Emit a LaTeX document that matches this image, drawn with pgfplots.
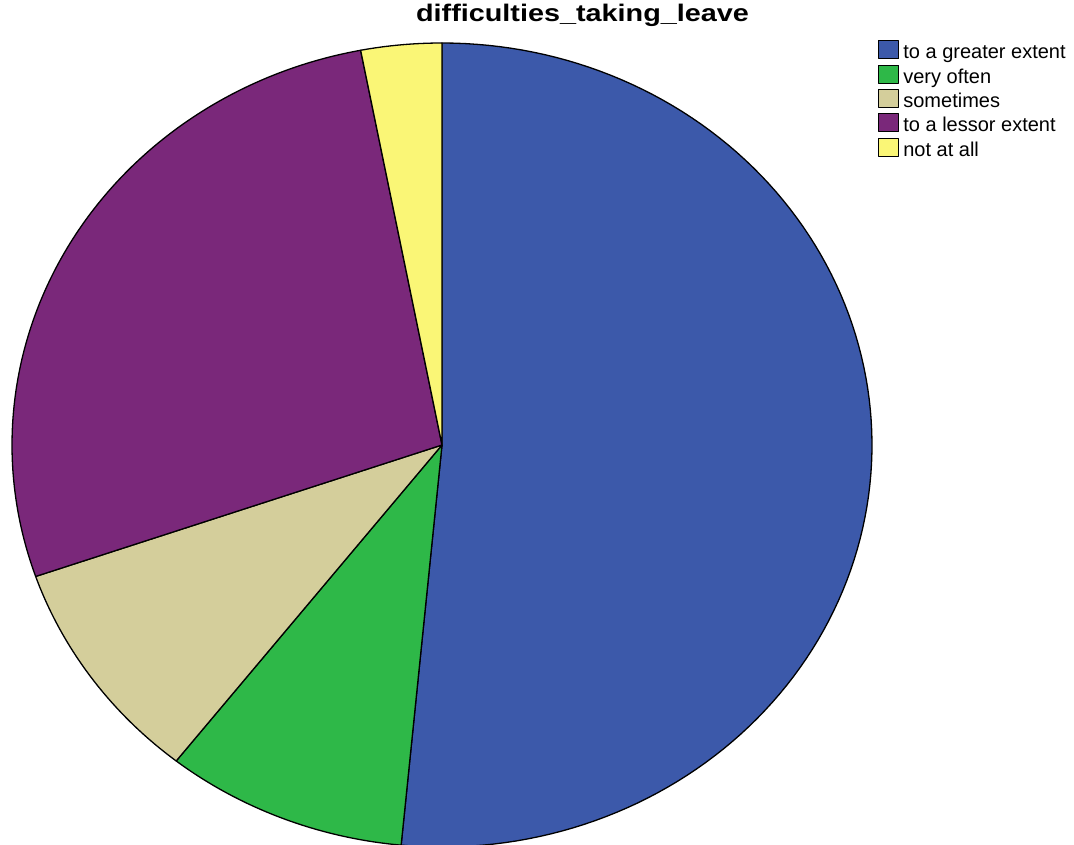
\documentclass[border=0pt]{standalone}
\usepackage{pgfplots}
\usepackage{pgfplotstable}
\pgfplotsset{compat=1.18}
\usepackage{fontspec}
\setmainfont{Liberation Sans}
\newfontfamily\titlefont[FakeStretch=1.2]{Liberation Sans}

\definecolor{pc0}{RGB}{60,89,170}
\definecolor{pc1}{RGB}{46,184,72}
\definecolor{pc2}{RGB}{212,206,155}
\definecolor{pc3}{RGB}{122,40,122}
\definecolor{pc4}{RGB}{250,246,118}

\pgfplotstableread[col sep=comma]{
label,count
to a greater extent,17
very often,3
sometimes,3
to a lessor extent,9
not at all,1
}\piedata

\xdef\pietotal{0}
\foreach \i in {0,...,4}{%
  \pgfplotstablegetelem{\i}{count}\of\piedata
  \pgfmathsetmacro\tmp{\pietotal+\pgfplotsretval}%
  \xdef\pietotal{\tmp}%
}
\xdef\piecum{0}
\foreach \i in {0,...,4}{%
  \pgfplotstablegetelem{\i}{count}\of\piedata
  \pgfmathsetmacro\sa{90-360*\piecum/\pietotal}%
  \pgfmathsetmacro\newcum{\piecum+\pgfplotsretval}%
  \pgfmathsetmacro\ea{90-360*\newcum/\pietotal}%
  \expandafter\xdef\csname pieS\i\endcsname{\sa}%
  \expandafter\xdef\csname pieE\i\endcsname{\ea}%
  \xdef\piecum{\newcum}%
  \pgfplotstablegetelem{\i}{label}\of\piedata
  \expandafter\xdef\csname pieL\i\endcsname{\pgfplotsretval}%
}

\begin{document}
\begin{tikzpicture}
\useasboundingbox (0,0) rectangle (1074pt,845pt);
\begin{axis}[
  at={(0,0)}, anchor=south west,
  width=1074pt, height=845pt, scale only axis,
  xmin=0, xmax=1074, ymin=0, ymax=845,
  hide axis, clip=true,
  title={\titlefont\bfseries difficulties\_taking\_leave},
  title style={at={(rel axis cs:0.5424,0.9669)}, anchor=base, font=\fontsize{24}{28}\selectfont},
  legend style={at={(rel axis cs:0.8175,0.9527)}, anchor=north west, draw=none, fill=none,
    font=\fontsize{20}{24}\selectfont, inner sep=0pt, row sep=0.9pt,
    nodes={inner sep=0pt, text height=14pt, text depth=5pt}, cells={anchor=west}},
  legend image code/.code={\draw[#1,draw=black,line width=1pt] (0pt,-4.5pt) rectangle (20pt,13.5pt); \path (24pt,0pt);},
]
\pgfplotsinvokeforeach{0,...,4}{%
  \addplot[fill=pc#1, draw=black, line width=1.3pt, line join=round, variable=\t, domain=0:122, samples=123]
  ({(\t<0.5 || \t>121.5) ? 442 : 442+430*cos(\csname pieS#1\endcsname+(\t-1)*(\csname pieE#1\endcsname-\csname pieS#1\endcsname)/120)},
   {(\t<0.5 || \t>121.5) ? 400 : 400+402*sin(\csname pieS#1\endcsname+(\t-1)*(\csname pieE#1\endcsname-\csname pieS#1\endcsname)/120)});
  \addlegendentry{\csname pieL#1\endcsname}
}
\end{axis}
\end{tikzpicture}
\end{document}
